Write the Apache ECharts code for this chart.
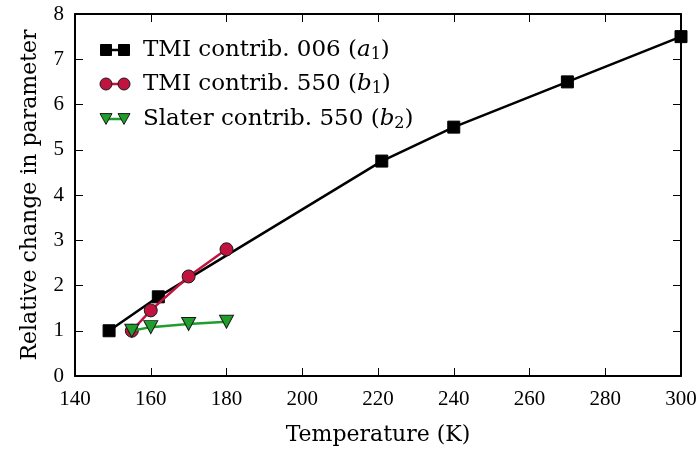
<!DOCTYPE html>
<html>
<head>
<meta charset="utf-8">
<script src="https://cdn.jsdelivr.net/npm/echarts@6/dist/echarts.min.js"></script>
<style>
  html, body { margin: 0; padding: 0; background: #fff; }
  #chart { width: 700px; height: 454px; }
</style>
</head>
<body>
<div id="chart"></div>
<script>
// Temperature (K) and relative change for each contribution
const tempA1 = [149, 162, 221, 240, 270, 300];
const valA1  = [1.0, 1.75, 4.75, 5.5, 6.5, 7.5];

const tempB1 = [155, 160, 170, 180];
const valB1  = [1.0, 1.45, 2.2, 2.8];

const tempB2 = [155, 160, 170, 180];
const valB2  = [1.0, 1.08, 1.15, 1.2];

const xTicks = [140, 160, 180, 200, 220, 240, 260, 280, 300];
const yTicks = [0, 1, 2, 3, 4, 5, 6, 7, 8];

const seriesNames = ['TMI contrib. 006', 'TMI contrib. 550', 'Slater contrib. 550'];
const seriesSymbols = ['a', 'b', 'b'];
const seriesIndices = ['1', '1', '2'];

const TICK_FONT = 'Liberation Serif';
const TEXT_FONT = 'DejaVu Serif';
const BLACK = '#000000';
const RED = '#c0143f';
const GREEN = '#1f9e2c';
const EDGE = '#1a1a1a';

const toPairs = (xs, ys) => xs.map((x, i) => [x, ys[i]]);

const grid = { left: 75, right: 19, top: 14, bottom: 78 };

const chart = echarts.init(document.getElementById('chart'), null, { renderer: 'canvas' });

const baseX = {
  type: 'value', min: xTicks[0], max: xTicks[xTicks.length - 1], interval: 20,
  axisLine: { show: true, onZero: false, lineStyle: { color: '#000', width: 2 } },
  axisTick: { show: true, inside: true, length: 8, lineStyle: { color: '#000', width: 1 } },
  splitLine: { show: false }
};
const baseY = {
  type: 'value', min: yTicks[0], max: yTicks[yTicks.length - 1], interval: 1,
  axisLine: { show: true, onZero: false, lineStyle: { color: '#000', width: 2 } },
  axisTick: { show: true, inside: true, length: 8, lineStyle: { color: '#000', width: 1 } },
  splitLine: { show: false }
};

// Legend rows: two markers joined by a line, followed by the label
const legendRows = [
  { symbol: 'rect', color: BLACK, border: BLACK, size: 11 },
  { symbol: 'circle', color: RED, border: EDGE, size: 12 },
  { symbol: 'triangle', color: GREEN, border: EDGE, size: 12 }
];
const legendY = [50, 84, 119];
const legendGraphics = [];
legendRows.forEach((r, i) => {
  const cy = legendY[i];
  const lineColor = i === 0 ? BLACK : (i === 1 ? RED : GREEN);
  legendGraphics.push({
    type: 'line', shape: { x1: 106, y1: cy, x2: 124, y2: cy },
    style: { stroke: lineColor, lineWidth: 2.5 }, z: 10
  });
  [106, 124].forEach(cx => {
    if (r.symbol === 'rect') {
      legendGraphics.push({
        type: 'rect', shape: { x: cx - r.size / 2, y: cy - r.size / 2, width: r.size, height: r.size },
        style: { fill: r.color, stroke: r.border, lineWidth: 1 }, z: 11
      });
    } else if (r.symbol === 'circle') {
      legendGraphics.push({
        type: 'circle', shape: { cx: cx, cy: cy, r: r.size / 2 },
        style: { fill: r.color, stroke: r.border, lineWidth: 1 }, z: 11
      });
    } else {
      const h = r.size * 0.9, w = r.size;
      legendGraphics.push({
        type: 'polygon',
        shape: { points: [[cx - w / 2, cy - h / 2], [cx + w / 2, cy - h / 2], [cx, cy + h / 2]] },
        style: { fill: r.color, stroke: r.border, lineWidth: 1 }, z: 11
      });
    }
  });
  legendGraphics.push({
    type: 'text', x: 143, y: cy, z: 11,
    style: {
      text: seriesNames[i] + ' {p|(}{i|' + seriesSymbols[i] + '}{s|' + seriesIndices[i] + '}{p|)}',
      font: '23px "' + TEXT_FONT + '"', fill: '#000', verticalAlign: 'middle',
      rich: {
        p: { fontSize: 23, fontFamily: TEXT_FONT },
        i: { fontSize: 23, fontFamily: TEXT_FONT, fontStyle: 'italic' },
        s: { fontSize: 16, fontFamily: TEXT_FONT, padding: [9, 0, 0, 0] }
      }
    }
  });
});

chart.setOption({
  animation: false,
  backgroundColor: '#ffffff',
  textStyle: { fontFamily: TICK_FONT },
  grid: grid,
  xAxis: [
    Object.assign({}, baseX, {
      position: 'bottom',
      name: 'Temperature (K)', nameLocation: 'middle', nameGap: 48,
      nameTextStyle: { fontFamily: TEXT_FONT, fontSize: 22, color: '#000' },
      axisLabel: { show: true, fontFamily: TICK_FONT, fontSize: 21, color: '#000', margin: 13 }
    }),
    Object.assign({}, baseX, { position: 'top', axisLabel: { show: false } })
  ],
  yAxis: [
    Object.assign({}, baseY, {
      position: 'left',
      name: 'Relative change in parameter', nameLocation: 'middle', nameGap: 34,
      nameTextStyle: { fontFamily: TEXT_FONT, fontSize: 22, color: '#000' },
      axisLabel: { show: true, fontFamily: TICK_FONT, fontSize: 21, color: '#000', margin: 11 }
    }),
    Object.assign({}, baseY, { position: 'right', axisLabel: { show: false } })
  ],
  graphic: legendGraphics,
  series: [
    {
      name: seriesNames[0], type: 'line', data: toPairs(tempA1, valA1),
      symbol: 'rect', symbolSize: 12, z: 3,
      itemStyle: { color: BLACK, borderColor: BLACK, borderWidth: 1 },
      lineStyle: { color: BLACK, width: 2.5 }
    },
    {
      name: seriesNames[1], type: 'line', data: toPairs(tempB1, valB1),
      symbol: 'circle', symbolSize: 13, z: 4,
      itemStyle: { color: RED, borderColor: EDGE, borderWidth: 1 },
      lineStyle: { color: RED, width: 2.5 }
    },
    {
      name: seriesNames[2], type: 'line', data: toPairs(tempB2, valB2),
      symbol: 'triangle', symbolRotate: 180, symbolSize: [14, 13], z: 5,
      itemStyle: { color: GREEN, borderColor: EDGE, borderWidth: 1 },
      lineStyle: { color: GREEN, width: 2.5 }
    }
  ]
});
</script>
</body>
</html>
